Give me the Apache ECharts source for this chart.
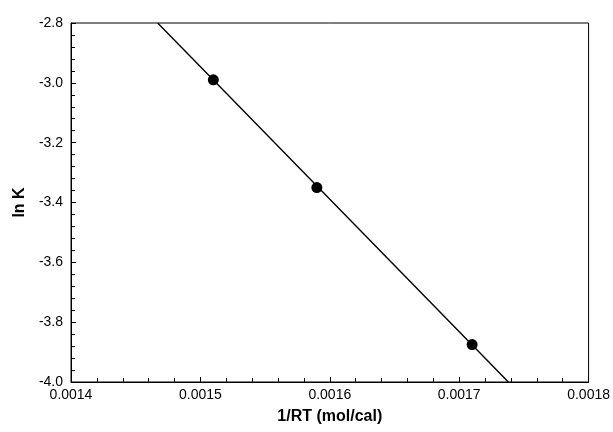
<!DOCTYPE html>
<html><head><meta charset="utf-8">
<script src="https://cdn.jsdelivr.net/npm/echarts@6/dist/echarts.min.js"></script>
<style>html,body{margin:0;padding:0;background:#fff}#c{width:613px;height:432px}</style>
</head><body><div id="c"></div>
<script>
// Measured points
const pointX = [0.00151, 0.00159, 0.00171];
const pointY = [-2.99, -3.35, -3.875];
// Fitted line end points
const lineX = [0.001467, 0.001738];
const lineY = [-2.8, -4.0];
const xTicks = [0.0014, 0.0015, 0.0016, 0.0017, 0.0018];
const yTicks = [-4.0, -3.8, -3.6, -3.4, -3.2, -3.0, -2.8];

const font = 'Liberation Sans, Arial, sans-serif';
const chart = echarts.init(document.getElementById('c'), null, {renderer: 'canvas'});
chart.setOption({
  animation: false,
  backgroundColor: '#fff',
  grid: {left: 71, right: 23, top: 23, bottom: 50, show: true, borderColor: '#000', borderWidth: 1, backgroundColor: 'transparent'},
  xAxis: {
    type: 'value', min: xTicks[0], max: xTicks[xTicks.length-1], interval: 0.0001,
    name: '1/RT (mol/cal)', nameLocation: 'middle', nameGap: 27,
    nameTextStyle: {fontFamily: font, fontSize: 16, color: '#000', fontWeight: 'bold'},
    axisLine: {lineStyle: {color: '#000', width: 1}},
    axisTick: {inside: true, length: 5, lineStyle: {color: '#000'}},
    minorTick: {show: true, splitNumber: 5, length: 4, lineStyle: {color: '#000'}},
    splitLine: {show: false},
    axisLabel: {fontFamily: font, fontSize: 14, color: '#000', margin: 6, formatter: v => v.toFixed(4)}
  },
  yAxis: {
    type: 'value', min: yTicks[0], max: yTicks[yTicks.length-1], interval: 0.2,
    name: 'ln K', nameLocation: 'middle', nameGap: 43,
    nameTextStyle: {fontFamily: font, fontSize: 16, color: '#000', fontWeight: 'bold'},
    axisLine: {lineStyle: {color: '#000', width: 1}},
    axisTick: {inside: true, length: 5, lineStyle: {color: '#000'}},
    minorTick: {show: true, splitNumber: 5, length: 4, lineStyle: {color: '#000'}},
    splitLine: {show: false},
    axisLabel: {fontFamily: font, fontSize: 14, color: '#000', margin: 8, formatter: v => v.toFixed(1)}
  },
  series: [
    {type: 'line', data: lineX.map((x,i)=>[x, lineY[i]]), symbol: 'none',
     lineStyle: {color: '#000', width: 1.4}, silent: true},
    {type: 'scatter', data: pointX.map((x,i)=>[x, pointY[i]]), symbol: 'circle', symbolSize: 11,
     itemStyle: {color: '#000', opacity: 1}}
  ]
});
</script></body></html>
